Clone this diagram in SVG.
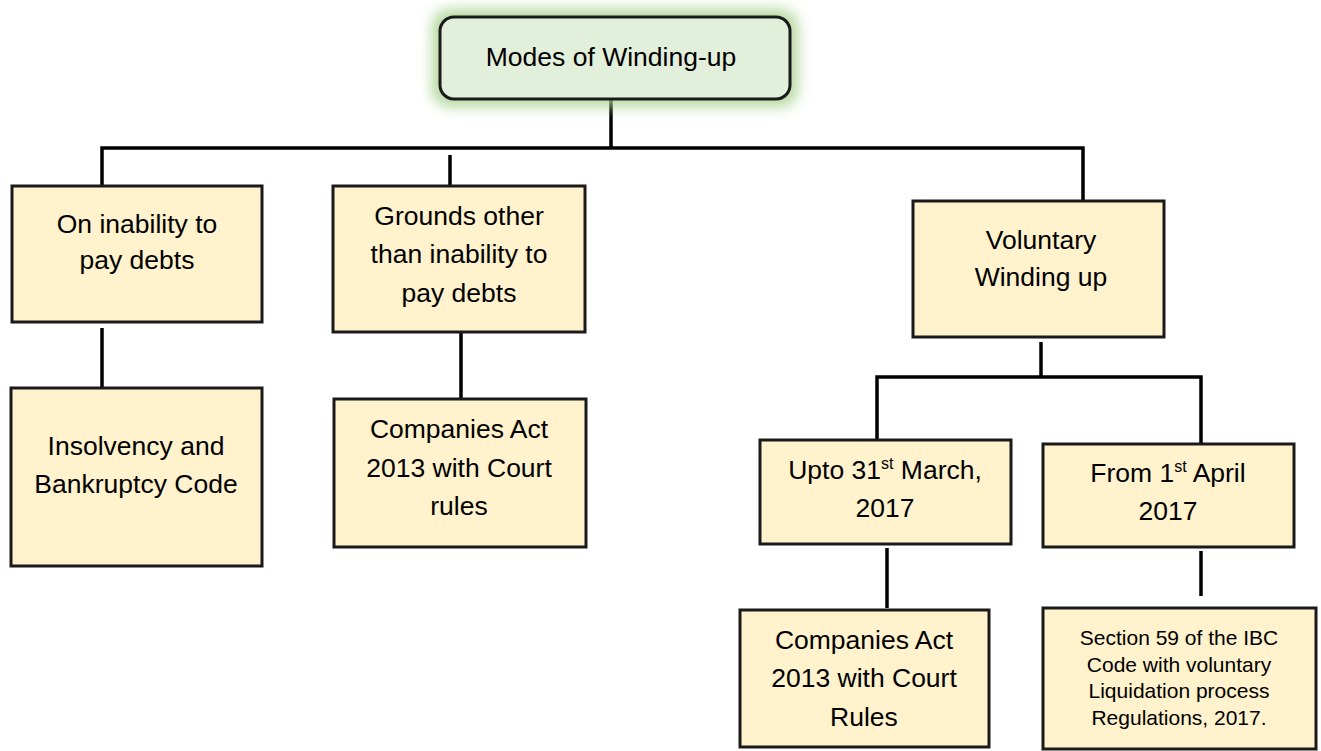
<svg xmlns="http://www.w3.org/2000/svg" width="1321" height="751" viewBox="0 0 1321 751">
<style>
.box{fill:#fff2cc;stroke:#1a1a1a;stroke-width:3}
.root{fill:#e2efda;stroke:#1a1a1a;stroke-width:3}
.t{font-family:"Liberation Sans",Arial,sans-serif;font-size:26.5px;fill:#000;text-anchor:middle}
.s{font-family:"Liberation Sans",Arial,sans-serif;font-size:21px;fill:#000;text-anchor:middle}
.sup{font-size:16px}
.c{stroke:#000;stroke-width:3.5;fill:none}
</style>
<defs>
<filter id="glow" x="-20%" y="-50%" width="140%" height="200%">
<feGaussianBlur stdDeviation="7"/>
</filter>
</defs>
<rect width="1321" height="751" fill="#fff"/>
<g id="connectors">
<line class="c" x1="611" y1="99" x2="611" y2="148"/>
<polyline class="c" points="102,186 102,148 1083,148 1083,201"/>
<line class="c" x1="450" y1="155" x2="450" y2="186"/>
<line class="c" x1="102" y1="328" x2="102" y2="388"/>
<line class="c" x1="461" y1="332" x2="461" y2="398"/>
<line class="c" x1="1041" y1="342" x2="1041" y2="377"/>
<polyline class="c" points="877,440 877,377 1201,377 1201,444"/>
<line class="c" x1="887" y1="548" x2="887" y2="608"/>
<line class="c" x1="1201" y1="551" x2="1201" y2="596"/>
</g>
<g id="root">
<rect x="432" y="9" width="366" height="98" rx="18" fill="#a9d18e" opacity="0.85" filter="url(#glow)"/>
<rect class="root" x="440" y="17" width="350" height="82" rx="14"/>
<text class="t" x="611" y="66">Modes of Winding-up</text>
</g>
<g id="n1">
<rect class="box" x="12" y="186" width="250" height="136"/>
<text class="t" x="137" y="233">On inability to</text>
<text class="t" x="137" y="269">pay debts</text>
</g>
<g id="n2">
<rect class="box" x="333" y="186" width="252" height="146"/>
<text class="t" x="459" y="225">Grounds other</text>
<text class="t" x="459" y="263">than inability to</text>
<text class="t" x="459" y="302">pay debts</text>
</g>
<g id="n3">
<rect class="box" x="913" y="201" width="251" height="136"/>
<text class="t" x="1041" y="249">Voluntary</text>
<text class="t" x="1041" y="286">Winding up</text>
</g>
<g id="n4">
<rect class="box" x="11" y="388" width="251" height="178"/>
<text class="t" x="136" y="455">Insolvency and</text>
<text class="t" x="136" y="493">Bankruptcy Code</text>
</g>
<g id="n5">
<rect class="box" x="334" y="399" width="252" height="148"/>
<text class="t" x="459" y="438">Companies Act</text>
<text class="t" x="459" y="477">2013 with Court</text>
<text class="t" x="459" y="515">rules</text>
</g>
<g id="n6">
<rect class="box" x="760" y="440" width="251" height="104"/>
<text class="t" x="885" y="479">Upto 31<tspan class="sup" dy="-10">st</tspan><tspan dy="10"> March,</tspan></text>
<text class="t" x="885" y="517">2017</text>
</g>
<g id="n7">
<rect class="box" x="1043" y="444" width="251" height="103"/>
<text class="t" x="1168" y="482">From 1<tspan class="sup" dy="-10">st</tspan><tspan dy="10"> April</tspan></text>
<text class="t" x="1168" y="520">2017</text>
</g>
<g id="n8">
<rect class="box" x="740" y="610" width="249" height="137"/>
<text class="t" x="864" y="649">Companies Act</text>
<text class="t" x="864" y="687">2013 with Court</text>
<text class="t" x="864" y="726">Rules</text>
</g>
<g id="n9">
<rect class="box" x="1043" y="608" width="273" height="141"/>
<text class="s" x="1179" y="645">Section 59 of the IBC</text>
<text class="s" x="1179" y="672">Code with voluntary</text>
<text class="s" x="1179" y="698">Liquidation process</text>
<text class="s" x="1179" y="725">Regulations, 2017.</text>
</g>
</svg>
